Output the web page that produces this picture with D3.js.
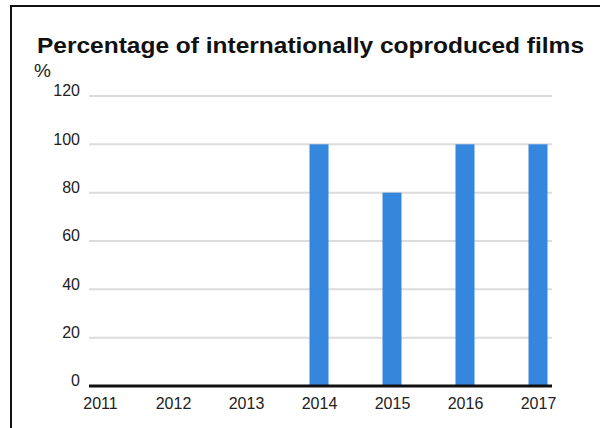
<!DOCTYPE html>
<html>
<head>
<meta charset="utf-8">
<script src="https://cdn.jsdelivr.net/npm/d3@7"></script>
<style>
  body { margin: 0; background: #fff; }
  text { font-family: "Liberation Sans", Arial, sans-serif; }
</style>
</head>
<body>
<div id="chart"></div>
<script>
var w = 600;
var h = 428;

var years = ['2011', '2012', '2013', '2014', '2015', '2016', '2017'];
var shares = [0, 0, 0, 100, 80, 100, 100];
var yTicks = [0, 20, 40, 60, 80, 100, 120];

var svg = d3.select('#chart')
  .append('svg')
  .attr('width', w)
  .attr('height', h);

// frame (left + top edges only are visible)
svg.append('path')
  .attr('d', 'M11,' + h + 'V6H' + w)
  .attr('fill', 'none')
  .attr('stroke', '#111')
  .attr('stroke-width', 2);

var x = d3.scalePoint()
  .domain(years)
  .range([100, 538]);

var y = d3.scaleLinear()
  .domain([0, 120])
  .range([386, 96]);

// gridlines
svg.selectAll('line.grid')
  .data(yTicks.filter(function (d) { return d > 0; }))
  .enter()
  .append('line')
  .attr('class', 'grid')
  .attr('x1', 89)
  .attr('x2', 552)
  .attr('y1', function (d) { return y(d); })
  .attr('y2', function (d) { return y(d); })
  .attr('stroke', '#dcdcdc')
  .attr('stroke-width', 2);

// y axis labels
var yAxis = d3.axisLeft(y)
  .tickValues(yTicks)
  .tickSize(0)
  .tickPadding(0);

var gy = svg.append('g')
  .attr('transform', 'translate(80,0)')
  .call(yAxis);
gy.select('.domain').remove();
gy.selectAll('text')
  .attr('dy', '-0.05em')
  .attr('fill', '#222')
  .style('font-size', '16px');
gy.selectAll('text').attr('y', 0).attr('dy', '-0.02em');

// bars
var barW = 19;
svg.selectAll('rect.bar')
  .data(shares)
  .enter()
  .append('rect')
  .attr('class', 'bar')
  .attr('x', function (d, i) { return x(years[i]) - barW / 2; })
  .attr('y', function (d) { return y(d); })
  .attr('width', barW)
  .attr('height', function (d) { return y(0) - y(d); })
  .attr('fill', '#3487dc');

// baseline
svg.append('line')
  .attr('x1', 89)
  .attr('x2', 552)
  .attr('y1', y(0))
  .attr('y2', y(0))
  .attr('stroke', '#111')
  .attr('stroke-width', 3);

// x axis labels
var xAxis = d3.axisBottom(x)
  .tickSize(0)
  .tickPadding(0);

var gx = svg.append('g')
  .attr('transform', 'translate(0,397)')
  .call(xAxis);
gx.select('.domain').remove();
gx.selectAll('text')
  .attr('dy', '0.72em')
  .attr('fill', '#222')
  .style('font-size', '16px');

// title
svg.append('text')
  .attr('x', 37)
  .attr('y', 53)
  .attr('fill', '#111')
  .attr('textLength', 547)
  .attr('lengthAdjust', 'spacingAndGlyphs')
  .style('font-weight', 'bold')
  .style('font-size', '22px')
  .text('Percentage of internationally coproduced films');

svg.append('text')
  .attr('x', 34)
  .attr('y', 77)
  .attr('fill', '#222')
  .style('font-size', '19px')
  .text('%');
</script>
</body>
</html>
